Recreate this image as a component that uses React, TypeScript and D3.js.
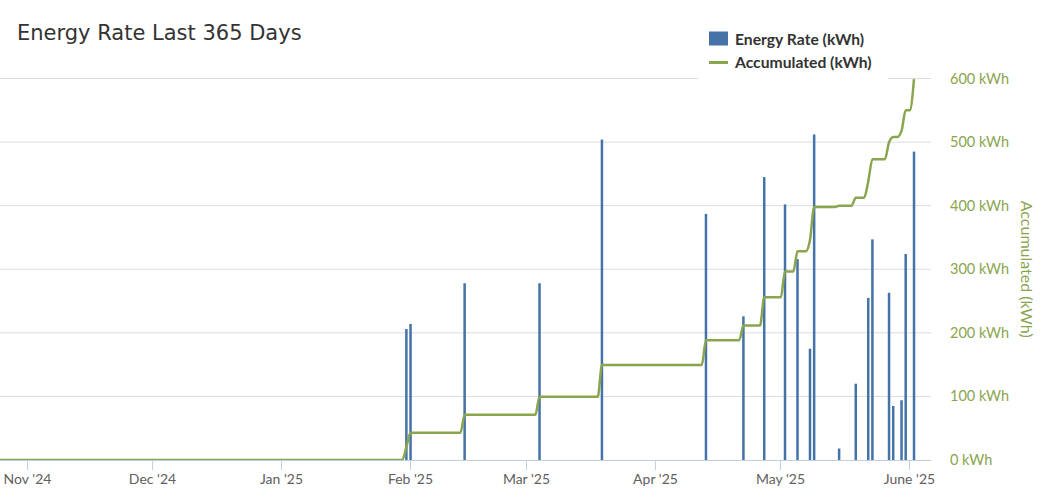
import React from "react"
import * as d3 from "d3"

// Charging days and energy per day (kWh)
const rateDates = [
  "2025-01-31", "2025-02-01", "2025-02-14", "2025-03-04", "2025-03-19",
  "2025-04-13", "2025-04-22", "2025-04-27", "2025-05-02", "2025-05-05",
  "2025-05-08", "2025-05-09", "2025-05-15", "2025-05-19", "2025-05-22",
  "2025-05-23", "2025-05-27", "2025-05-28", "2025-05-30", "2025-05-31",
  "2025-06-02",
]
const rateValues = [
  20.6, 21.4, 27.8, 27.8, 50.4,
  38.7, 22.6, 44.5, 40.2, 31.6,
  17.5, 51.2, 1.8, 12.0, 25.5,
  34.7, 26.3, 8.5, 9.4, 32.4,
  48.5,
]

// Accumulated energy (kWh)
const accDates = [
  "2024-10-25", "2025-01-30", "2025-01-31", "2025-02-01", "2025-02-13",
  "2025-02-14", "2025-03-03", "2025-03-04", "2025-03-18", "2025-03-19",
  "2025-04-12", "2025-04-13", "2025-04-21", "2025-04-22", "2025-04-26",
  "2025-04-27", "2025-05-01", "2025-05-02", "2025-05-04", "2025-05-05",
  "2025-05-07", "2025-05-08", "2025-05-09", "2025-05-14", "2025-05-15",
  "2025-05-18", "2025-05-19", "2025-05-21", "2025-05-22", "2025-05-23",
  "2025-05-26", "2025-05-27", "2025-05-28", "2025-05-29", "2025-05-30",
  "2025-05-31", "2025-06-01", "2025-06-02",
]
const accValues = [
  0, 0, 20.6, 43, 43,
  71, 71, 99.5, 99.5, 149.5,
  149.5, 188.5, 188.5, 211.5, 211.5,
  256, 256, 296.5, 296.5, 328.5,
  328.5, 346, 398, 398, 400,
  400, 412.5, 412.5, 438, 473,
  473, 499.5, 508, 508, 517.5,
  550, 550, 599,
]

const monthTicks = ["2024-11-01", "2024-12-01", "2025-01-01", "2025-02-01", "2025-03-01", "2025-04-01", "2025-05-01", "2025-06-01"]
const monthLabels = ["Nov '24", "Dec '24", "Jan '25", "Feb '25", "Mar '25", "Apr '25", "May '25", "June '25"]
const accTicks = [0, 100, 200, 300, 400, 500, 600]

const W = 1056
const H = 504
const margin = { top: 78.5, right: 125, bottom: 44, left: 0 }
const BLUE = "#4572A7"
const GREEN = "#89A54E"
const FONT = "Lato, 'Open Sans', sans-serif"

const parseDay = (s: string, hour = 0) => {
  const [y, m, d] = s.split("-").map(Number)
  return new Date(y, m - 1, d, hour)
}

const App = () => {
  const innerW = W - margin.left - margin.right
  const bottom = H - margin.bottom

  const x = d3
    .scaleTime()
    .domain([new Date(2024, 9, 25, 14), new Date(2025, 5, 6, 8)])
    .range([margin.left, margin.left + innerW])
  const yAcc = d3.scaleLinear().domain([0, 600]).range([bottom, margin.top])
  const yRate = d3.scaleLinear().domain([0, 60]).range([bottom, margin.top])

  const accPoints = accDates.map((d, i) => ({ t: parseDay(d, 6), v: accValues[i] }))
  const line = d3
    .line<{ t: Date; v: number }>()
    .x((d) => x(d.t))
    .y((d) => yAcc(d.v))
    .curve(d3.curveMonotoneX)

  const barW = 2.5

  return (
    <svg width={W} height={H} style={{ position: "absolute", left: 0, top: 0, fontFamily: FONT }}>
      <defs>
        <clipPath id="plot">
          <rect x={margin.left} y={0} width={innerW} height={bottom} />
        </clipPath>
      </defs>
      <text x={17} y={40} fontSize={21} fill="#333" fontFamily="'DejaVu Sans', sans-serif">
        Energy Rate Last 365 Days
      </text>

      {/* grid */}
      {accTicks.filter((t) => t > 0).map((t) => (
        <line key={t} x1={margin.left} x2={margin.left + innerW} y1={yAcc(t)} y2={yAcc(t)} stroke="#dcdcdc" strokeWidth={1} />
      ))}

      {/* right axis labels */}
      {accTicks.map((t) => (
        <text key={t} x={950} y={yAcc(t)} dy="0.35em" fontSize={14.5} fill={GREEN}>{`${t} kWh`}</text>
      ))}
      <text
        transform={`translate(1021,${(bottom + margin.top) / 2}) rotate(90)`}
        textAnchor="middle"
        fontSize={16}
        fill={GREEN}
      >
        Accumulated (kWh)
      </text>

      {/* bars */}
      <g clipPath="url(#plot)">
        {rateDates.map((d, i) => (
          <rect
            key={d}
            x={x(parseDay(d, 6)) - barW / 2}
            y={yRate(rateValues[i])}
            width={barW}
            height={bottom - yRate(rateValues[i])}
            fill={BLUE}
          />
        ))}
        <path d={line(accPoints) || ""} fill="none" stroke={GREEN} strokeWidth={2.5} />
      </g>

      {/* x axis */}
      <line x1={margin.left} x2={margin.left + innerW} y1={bottom + 0.5} y2={bottom + 0.5} stroke="#C0D0E0" />
      {monthTicks.map((m, i) => {
        const tx = Math.round(x(parseDay(m))) + 0.5
        return (
          <g key={m}>
            <line x1={tx} x2={tx} y1={bottom} y2={bottom + 10} stroke="#C0D0E0" />
            <text x={tx} y={bottom + 24} textAnchor="middle" fontSize={14} fill="#606060">{monthLabels[i]}</text>
          </g>
        )
      })}

      {/* legend */}
      <rect x={698} y={22} width={190} height={60} fill="#fff" />
      <rect x={709} y={31.5} width={19} height={14} fill={BLUE} />
      <text x={735} y={45} fontSize={15.7} fontWeight="bold" fill="#333">Energy Rate (kWh)</text>
      <line x1={709} x2={728} y1={62.5} y2={62.5} stroke={GREEN} strokeWidth={3} />
      <text x={735} y={67.5} fontSize={15.7} fontWeight="bold" fill="#333">Accumulated (kWh)</text>
    </svg>
  )
}

export default App
